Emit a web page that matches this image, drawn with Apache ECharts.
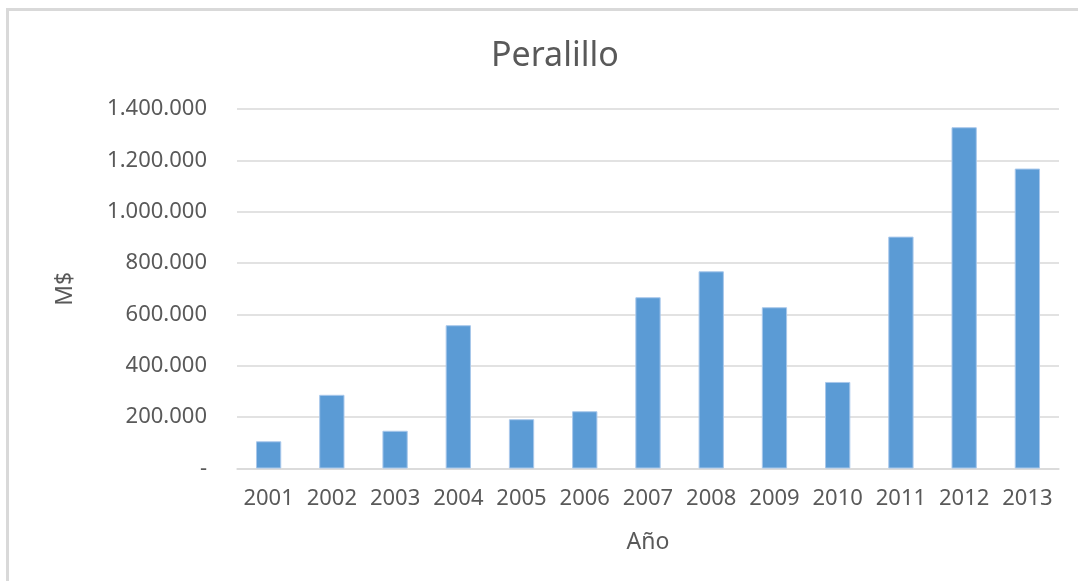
<!DOCTYPE html>
<html>
<head>
<meta charset="utf-8">
<script src="https://cdn.jsdelivr.net/npm/echarts@6/dist/echarts.min.js"></script>
<style>
  html, body { margin: 0; padding: 0; background: #fff; }
  #frame { position: absolute; left: 6px; top: 8px; width: 1072px; height: 573px;
           border-top: 3px solid #d9d9d9; border-left: 3px solid #d9d9d9; box-sizing: border-box; }
  #chart { position: absolute; left: 0; top: 0; width: 1078px; height: 581px; }
</style>
</head>
<body>
<div id="frame"></div>
<div id="chart"></div>
<script>
// datos
const years = ['2001', '2002', '2003', '2004', '2005', '2006', '2007', '2008', '2009', '2010', '2011', '2012', '2013'];
const montos = [106000, 287000, 147000, 558000, 192000, 223000, 667000, 768000, 628000, 337000, 903000, 1329000, 1168000];

const txt = '#595959';
const fuente = 'Noto Sans';

// formato con punto de miles, cero como guion
function fmtMiles(v) {
    if (v === 0) return '-';
    return String(v).replace(/\B(?=(\d{3})+(?!\d))/g, '.');
}

const myChart = echarts.init(document.getElementById('chart'));

const option = {
    animation: false,
    title: {
        text: 'Peralillo',
        left: 486,
        top: 34,
        textStyle: { color: txt, fontSize: 34, fontWeight: 'normal', fontFamily: fuente }
    },
    grid: { left: 237, right: 19, top: 109, bottom: 112.5 },
    xAxis: {
        type: 'category',
        data: years,
        name: 'Año',
        nameLocation: 'middle',
        nameGap: 62,
        nameTextStyle: { color: txt, fontSize: 23, fontFamily: fuente },
        axisLine: { lineStyle: { color: '#d9d9d9', width: 1.5 } },
        axisTick: { show: false },
        axisLabel: { color: txt, fontSize: 22, fontFamily: fuente, margin: 19, interval: 0 }
    },
    yAxis: {
        type: 'value',
        min: 0,
        max: 1400000,
        interval: 200000,
        name: 'M$',
        nameLocation: 'middle',
        nameGap: 160,
        nameTextStyle: { color: txt, fontSize: 23, fontFamily: fuente },
        axisLine: { show: false },
        axisTick: { show: false },
        splitLine: { lineStyle: { color: '#d9d9d9', width: 1.5 } },
        axisLabel: { color: txt, fontSize: 22, fontFamily: fuente, margin: 30, formatter: fmtMiles }
    },
    series: [{
        type: 'bar',
        data: montos,
        barWidth: '40%',
        itemStyle: { color: '#5b9bd5', borderColor: '#a9c8eb', borderWidth: 1 }
    }]
};

myChart.setOption(option);
</script>
</body>
</html>
